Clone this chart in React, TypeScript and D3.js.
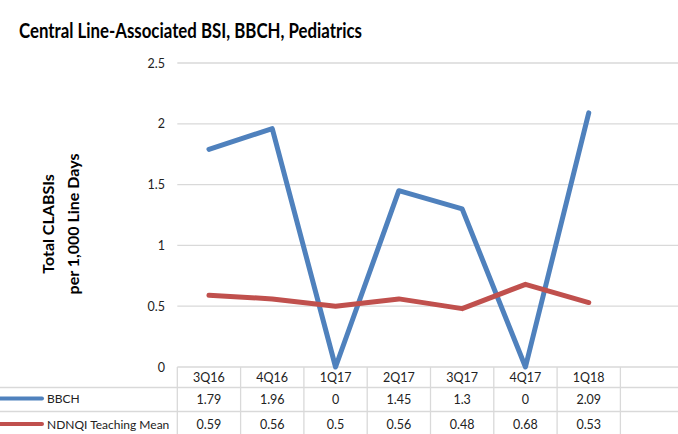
import React from 'react';
import { scaleBand, scaleLinear, line } from 'd3';

const W = 678;
const H = 434;

const TITLE = 'Central Line-Associated BSI, BBCH, Pediatrics';
const Y_TITLE = ['Total CLABSIs', 'per 1,000 Line Days'];

const quarters = ['3Q16', '4Q16', '1Q17', '2Q17', '3Q17', '4Q17', '1Q18', ''];
const bbch = [1.79, 1.96, 0, 1.45, 1.3, 0, 2.09];
const ndnqi = [0.59, 0.56, 0.5, 0.56, 0.48, 0.68, 0.53];
const yTicks = [0, 0.5, 1, 1.5, 2, 2.5];

const series = [
	{ name: 'BBCH', values: bbch, color: '#4f81bd' },
	{ name: 'NDNQI Teaching Mean', values: ndnqi, color: '#c0504d' },
];

const FONT = 'Lato, "Open Sans", sans-serif';
const GRID = '#d9d9d9';

export default function App() {
	const x = scaleBand<string>().domain(quarters).range([177.3, 683.7]);
	const y = scaleLinear().domain([0, 2.5]).range([367, 63]);

	const rowTop = [367, 387.5, 411.5, 436];

	const gen = line<number>()
		.x((_, i) => (x(quarters[i]) as number) + x.bandwidth() / 2)
		.y((d) => y(d));

	return (
		<svg width={W} height={H} style={{ position: 'absolute', left: 0, top: 0, background: '#fff' }}>
			<text x={19} y={38} fontFamily={FONT} fontWeight="bold" fontSize={20.5} textLength={343} lengthAdjust="spacingAndGlyphs">
				{TITLE}
			</text>

			{/* y axis title */}
			<g transform="translate(60,224) rotate(-90)" fontFamily={FONT} fontWeight="bold" fontSize={16} textAnchor="middle">
				<text x={0} y={-6}>{Y_TITLE[0]}</text>
				<text x={0} y={19}>{Y_TITLE[1]}</text>
			</g>

			{/* gridlines + ticks */}
			{yTicks.map((t) => (
				<g key={t}>
					{t > 0 && <line x1={177.3} x2={W} y1={y(t)} y2={y(t)} stroke={GRID} strokeWidth={1.3} />}
					<text x={165} y={y(t) + 4.5} textAnchor="end" fontFamily={FONT} fontSize={12.5} fill="#222">
						{t}
					</text>
				</g>
			))}

			{/* data table */}
			<g stroke={GRID} strokeWidth={1.3}>
				<line x1={177.3} x2={W} y1={rowTop[0]} y2={rowTop[0]} />
				<line x1={0} x2={W} y1={rowTop[1]} y2={rowTop[1]} />
				<line x1={0} x2={W} y1={rowTop[2]} y2={rowTop[2]} />
				{quarters.map((q) => (
					<line key={q} x1={x(q) as number} x2={x(q) as number} y1={rowTop[0]} y2={H} />
				))}
			</g>
			{quarters.map((q, i) => {
				const cx = (x(q) as number) + x.bandwidth() / 2;
				return (
					<g key={'c' + i} fontFamily={FONT} fontSize={12.5} fill="#222" textAnchor="middle">
						<text x={cx} y={382}>{q}</text>
						{series.map((s, j) => (
							<text key={s.name} x={cx} y={j === 0 ? 404 : 429}>
								{i < s.values.length ? String(s.values[i]) : ''}
							</text>
						))}
					</g>
				);
			})}

			{/* legend keys in table */}
			{series.map((s, j) => {
				const cy = j === 0 ? 398.5 : 424;
				return (
					<g key={s.name}>
						<line x1={0} x2={42} y1={cy} y2={cy} stroke={s.color} strokeWidth={4} strokeLinecap="round" />
						<text x={47} y={cy + 4.5} fontFamily={FONT} fontSize={12} fill="#222">
							{s.name}
						</text>
					</g>
				);
			})}

			{/* series lines */}
			{series.map((s) => (
				<path
					key={s.name}
					d={gen(s.values) ?? ''}
					fill="none"
					stroke={s.color}
					strokeWidth={5}
					strokeLinecap="round"
					strokeLinejoin="round"
				/>
			))}
		</svg>
	);
}
